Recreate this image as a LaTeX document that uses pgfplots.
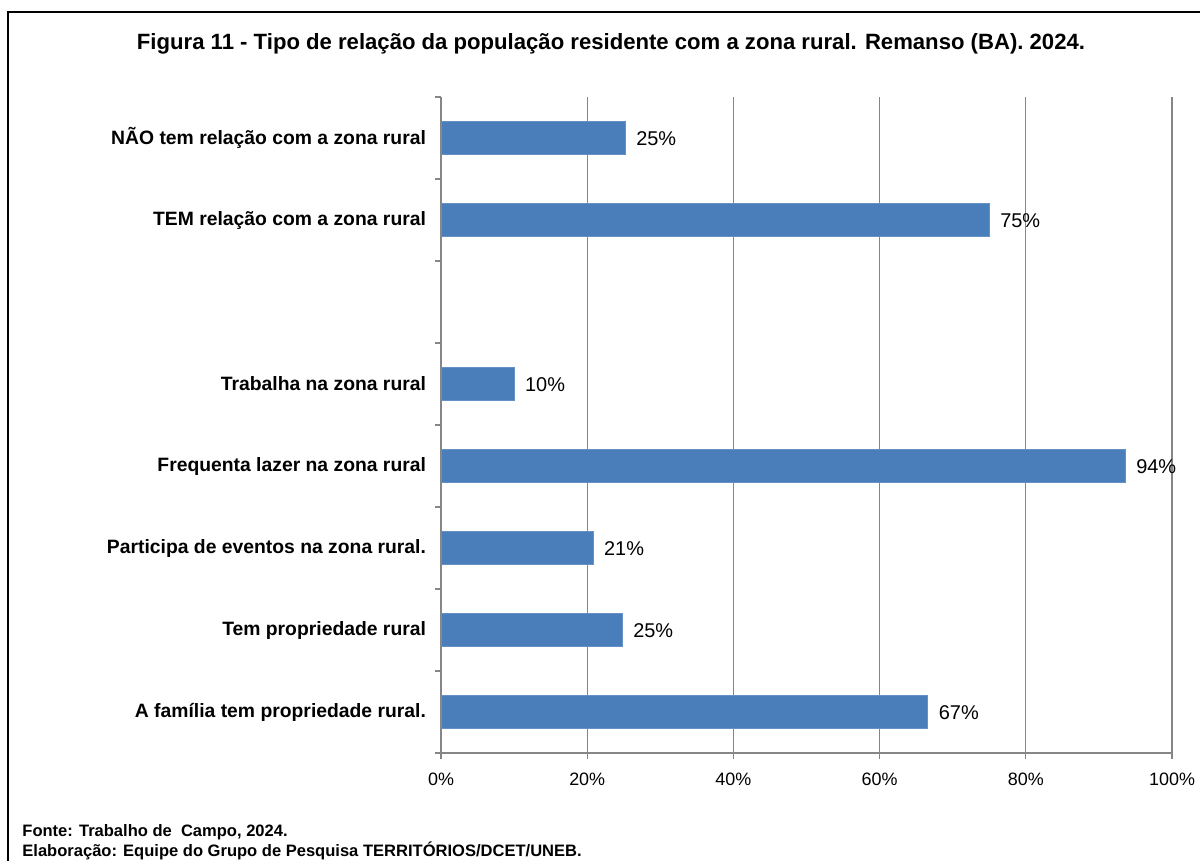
\documentclass[border=0pt]{standalone}
\usepackage{pgfplots}
\pgfplotsset{compat=1.18}
\usepackage{fontspec}
\setmainfont{Liberation Sans}
\definecolor{barblue}{RGB}{74,126,187}
\definecolor{gridgray}{RGB}{134,134,134}
\begin{document}
\begin{tikzpicture}[x=1bp,y=1bp]
\path[use as bounding box] (0,0) rectangle (600,430);
\draw[line width=1bp] (4,-10) -- (4,424) -- (610,424);
\node[font=\bfseries\fontsize{11.1}{13}\selectfont] at (305.5,408) {Figura 11 - Tipo de relação da população residente com a zona rural. Remanso (BA). 2024.};
\begin{axis}[
  at={(220.5bp,53.5bp)}, anchor=south west,
  scale only axis, width=365.5bp, height=328bp,
  xmin=0, xmax=100, ymin=-0.5, ymax=7.5,
  axis x line*=bottom, axis y line*=left,
  axis line style={gridgray, line width=0.6bp},
  xmajorgrids, major grid style={gridgray, line width=0.6bp},
  /pgf/number format/assume math mode=true,
  xtick={0,20,...,100},
  xticklabels={0\%,20\%,40\%,60\%,80\%,100\%},
  xticklabel style={font=\fontsize{9}{10}\selectfont, yshift=-3.5bp},
  ytick={-0.5,0.5,...,7.5},
  yticklabels={},
  extra y ticks={0,...,7},
  extra y tick labels={A família tem propriedade rural., Tem propriedade rural, Participa de eventos na zona rural., Frequenta lazer na zona rural, Trabalha na zona rural, {}, TEM relação com a zona rural, NÃO tem relação com a zona rural},
  extra y tick style={tick style={draw=none}, yticklabel style={font=\bfseries\fontsize{9.7}{11}\selectfont, align=right, xshift=-1bp}},
  tick style={gridgray, line width=0.6bp},
  tick align=outside,
  major tick length=3bp,
  xbar, bar width=16.5bp,
  nodes near coords={\pgfmathprintnumber[fixed,precision=0]{\pgfplotspointmeta}\%},
  point meta=x,
  nodes near coords style={anchor=west, xshift=2bp, yshift=-0.5bp, font=\fontsize{10}{12}\selectfont, text=black},
  clip=false,
]
\addplot[fill=barblue, draw=barblue!85!white] coordinates {
  (66.6,0) (24.8,1) (20.8,2) (93.6,3) (10,4) (75,6) (25.2,7)
};
\end{axis}
\node[anchor=base west, inner sep=0pt, font=\bfseries\fontsize{8.3}{9}\selectfont] at (11,12) {Fonte: Trabalho de\ \ Campo, 2024.};
\node[anchor=base west, inner sep=0pt, font=\bfseries\fontsize{8.3}{9}\selectfont] at (11,2) {Elaboração: Equipe do Grupo de Pesquisa TERRITÓRIOS/DCET/UNEB.};
\end{tikzpicture}
\end{document}
